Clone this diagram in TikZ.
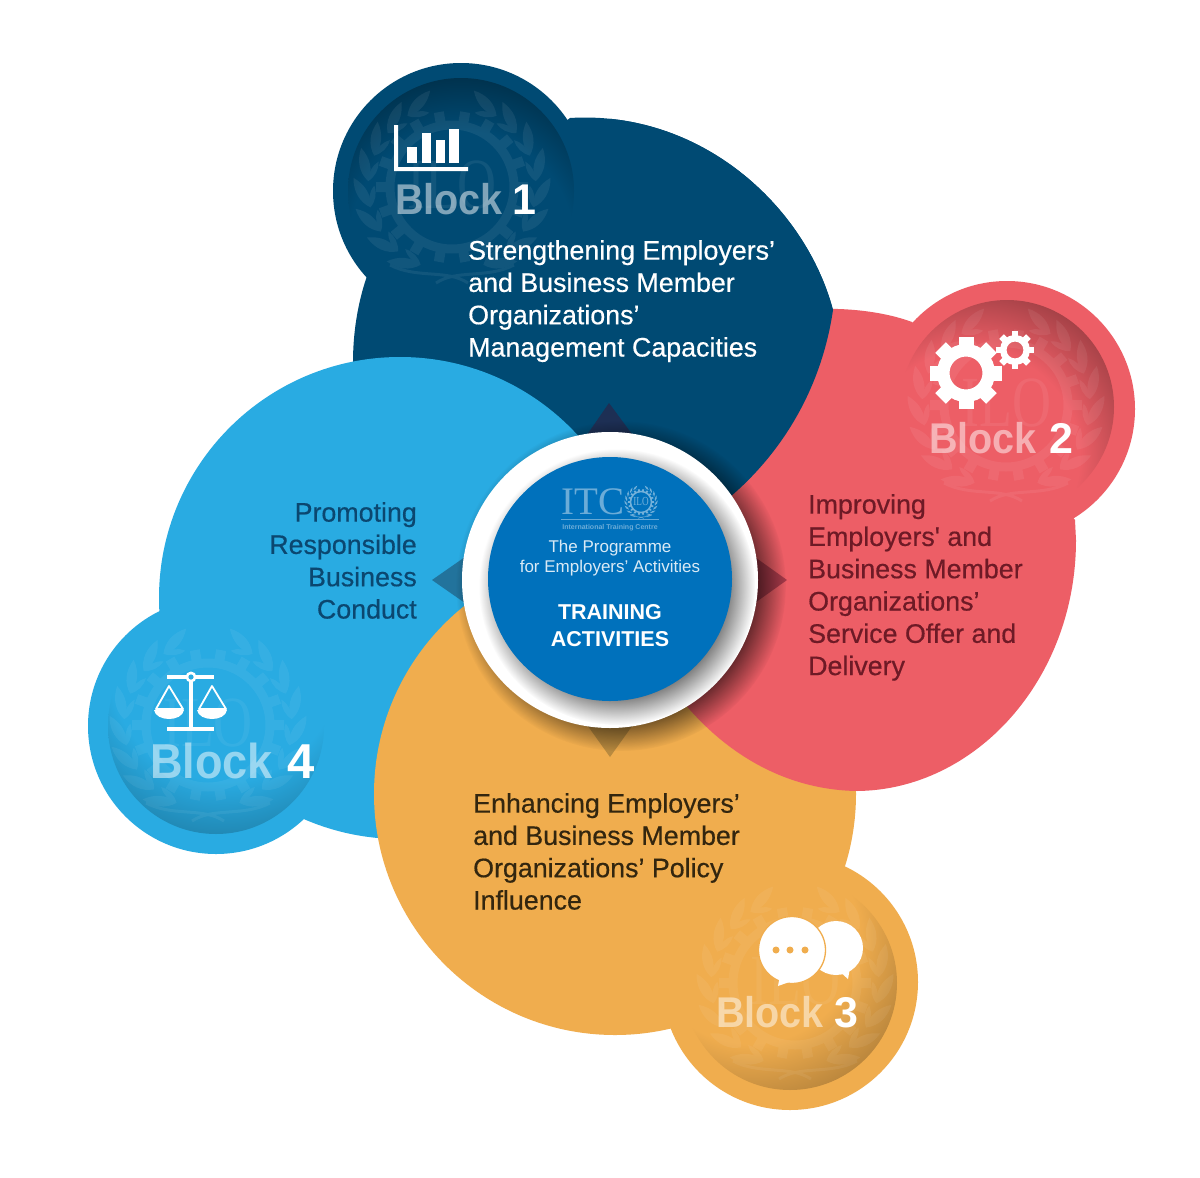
\documentclass[tikz,border=0pt]{standalone}
\usepackage{fontspec}
\usetikzlibrary{fadings}
\setmainfont{Liberation Sans}
\newfontfamily\bodyf[FakeBold=0.45]{Liberation Sans}
\newfontfamily\boldf{Liberation Sans Bold}
\newfontfamily\serf{Liberation Serif}
\definecolor{cnavy}{HTML}{004A73}
\definecolor{cblue}{HTML}{29ABE2}
\definecolor{cred}{HTML}{ED5E66}
\definecolor{corange}{HTML}{F0AD4E}
\definecolor{ccentre}{HTML}{0071BC}
\definecolor{tnavy}{HTML}{0B4770}
\definecolor{tred}{HTML}{6E1A26}
\definecolor{torange}{HTML}{33260F}
\colorlet{dnavy}{cnavy!68!black}
\colorlet{dred}{cred!70!black}
\colorlet{dorange}{corange!78!black}
\colorlet{dblue}{cblue!80!black}
\pgfdeclareradialshading{glownavy}{\pgfpointorigin}{color(0bp)=(cnavy); color(17bp)=(cnavy); color(25bp)=(dnavy); color(50bp)=(dnavy)}
\pgfdeclareradialshading{glowred}{\pgfpointorigin}{color(0bp)=(cred); color(16bp)=(cred); color(25bp)=(dred); color(50bp)=(dred)}
\pgfdeclareradialshading{gloworange}{\pgfpointorigin}{color(0bp)=(corange); color(16bp)=(corange); color(25bp)=(dorange); color(50bp)=(dorange)}
\pgfdeclareradialshading{glowblue}{\pgfpointorigin}{color(0bp)=(cblue); color(17bp)=(cblue); color(25bp)=(dblue); color(50bp)=(dblue)}
\pgfdeclareradialshading{softr}{\pgfpointorigin}{color(0bp)=(white); color(19bp)=(white); color(25bp)=(black); color(50bp)=(black)}
\pgfdeclarefading{softf}{\pgfuseshading{softr}}
\tikzset{
  x=1pt,y=-1pt,
  bodytext/.style={inner sep=0pt,font=\bodyf\fontsize{26.8}{32.3}\selectfont},
  blockw/.style={inner sep=0pt,anchor=base west,text=white,text opacity=.5},
  blockd/.style={inner sep=0pt,anchor=base west,text=white},
  centretext/.style={inner sep=0pt,anchor=base,text=white,align=center},
}
% cx cy radius shading dx dy
\newcommand{\glowdisc}[6]{%
  \begin{scope}
    \clip (#1,#2) circle (#3);
    \shade[shading=#4] ({#1+#5},{#2+#6}) circle ({#3+sqrt(#5*#5+#6*#6)});
  \end{scope}}
% cx cy scale opacity
\newcommand{\emblem}[4]{%
  \begin{scope}[shift={(#1,#2)},scale=#3,transparency group,opacity=#4]
    \draw[white,line width=#3*9pt] (0,0) circle (62);
    \foreach \a in {0,20,...,340}
      \fill[white,rotate=\a] (62,-5) rectangle (76,5);
    \node[text=white,text opacity=1,inner sep=0pt,scale=#3,font=\serf\fontsize{72}{72}\selectfont] at (0,-2) {\scalebox{.75}[1]{ILO}};
    \foreach \s in {1,-1}{
      \begin{scope}[xscale=\s]
        \foreach \t in {-68,-50,...,62}{
          \fill[white,shift={({84*cos(\t)},{-84*sin(\t)})},rotate=\t+90-16]
            (0,0) .. controls (10,7) and (22,7) .. (34,0) .. controls (22,-7) and (10,-7) .. (0,0);
          \fill[white,shift={({84*cos(\t)},{-84*sin(\t)})},rotate=\t+90+24]
            (0,0) .. controls (7,4) and (15,4) .. (22,0) .. controls (15,-4) and (7,-4) .. (0,0);
        }
        \draw[white,line width=#3*3pt] (-16,96) .. controls (5,82) and (35,92) .. (62,78);
      \end{scope}}
  \end{scope}}
% gear: cx cy body-r hole-r out-r tooth-halfwidth
\newcommand{\gearicon}[6]{%
  \begin{scope}[shift={(#1,#2)}]
    \draw[white,line width={(#3-#4)*1pt}] (0,0) circle ({(#3+#4)/2});
    \foreach \a in {0,45,...,315}
      \fill[white,rotate=\a] ({#3-2},{-#6}) rectangle (#5,#6);
  \end{scope}}
\newcommand{\navyblob}{(570,118) .. controls (700,110) and (805,205) .. (833,310) .. controls (822,385) and (785,450) .. (730,497) -- (610,580) -- (400,450) -- (353,362) .. controls (353,335) and (357,305) .. (367,276) -- cycle}
\begin{document}
\begin{tikzpicture}
\useasboundingbox (0,0) rectangle (1200,1178);
\fill[white] (0,0) rectangle (1200,1178);
% navy
\fill[cnavy] \navyblob;
\fill[cnavy] (461,191) circle (128);
% blue
\fill[cblue] (400,598) circle (241);
\fill[cblue] (216,726) circle (128);
% orange
\fill[corange] (615,794) circle (241);
\fill[corange] (790,982) circle (128);
% red
\fill[cred] (610,580) -- (760,400) -- (820,309) .. controls (850,308) and (885,312) .. (912,322) -- (1075,520) -- (1076,540) .. controls (1076,680) and (975,790) .. (857,791) .. controls (790,790) and (730,758) .. (684,703) -- cycle;
\fill[cred] (1007,409) circle (128);
% navy over red
\begin{scope}
  \clip (610,0) rectangle (1200,580);
  \fill[cnavy] \navyblob;
\end{scope}
% inner discs of the small circles
\glowdisc{461}{191}{113}{glownavy}{0}{52}
\glowdisc{1007}{407}{107}{glowred}{-35}{50}
\glowdisc{790}{983}{107}{gloworange}{-40}{-48}
\glowdisc{216}{726}{108}{glowblue}{8}{-60}
\emblem{452}{187}{1}{.065}
\emblem{1006}{405}{1}{.065}
\emblem{795}{983}{1}{.06}
\emblem{208}{725}{1}{.06}
% diamonds at the hub
\fill[fill={rgb,255:red,29;green,47;blue,84}] (609,403) -- (640,445) -- (580,445) -- cycle;
\fill[fill={rgb,255:red,168;green,58;blue,74}] (787,580) -- (745,610) -- (745,550) -- cycle;
\fill[fill={rgb,255:red,185;green,138;blue,63}] (610,757) -- (580,715) -- (640,715) -- cycle;
\fill[fill={rgb,255:red,34;green,115;blue,156}] (432,580) -- (475,550) -- (475,610) -- cycle;
% hub
\fill[black,opacity=.72,path fading=softf] (621,586) circle (165);
\fill[white] (610,580) circle (148);
\fill[black,opacity=.6,path fading=softf] (617,587) circle (138);
\node[circle,fill=ccentre,minimum size=244pt,inner sep=0pt] (hub) at (610,579) {};
% logo in hub
\node[inner sep=0pt,anchor=base west,text=white,text opacity=.42,font=\serf\fontsize{39}{39}\selectfont] (itc) at (561,514) {ITC};
\emblem{641}{502}{.17}{.45}
\draw[white,opacity=.4,line width=.6pt] (561,519) -- (659,519);
\node[centretext,text opacity=.42,font=\boldf\fontsize{7}{7}\selectfont] (itcname) at (610,529) {International Training Centre};
\node[centretext,text opacity=.85,font=\fontsize{17}{20}\selectfont] (prog1) at (610,552) {The Programme};
\node[centretext,text opacity=.85,font=\fontsize{17}{20}\selectfont] (prog2) at (610,572) {for Employers’ Activities};
\node[centretext,font=\boldf\fontsize{21.5}{27}\selectfont] (train1) at (610,619) {TRAINING};
\node[centretext,font=\boldf\fontsize{21.5}{27}\selectfont] (train2) at (610,646) {ACTIVITIES};
% body texts
\node[bodytext,anchor=north west,align=left,text=white] (t1) at (468,240) {Strengthening Employers’\\and Business Member\\Organizations’\\Management Capacities};
\node[bodytext,anchor=north west,align=left,text=tred] (t2) at (808,494) {Improving\\Employers' and\\Business Member\\Organizations’\\Service Offer and\\Delivery};
\node[bodytext,anchor=north west,align=left,text=torange] (t3) at (473,793) {Enhancing Employers’\\and Business Member\\Organizations’ Policy\\Influence};
\node[bodytext,anchor=north east,align=right,text=tnavy] (t4) at (417,502) {Promoting\\Responsible\\Business\\Conduct};
% block labels
\node[blockw,font=\boldf\fontsize{43}{43}\selectfont] (b1) at (395,214) {\scalebox{.92}[1]{Block}};
\node[blockd,font=\boldf\fontsize{43}{43}\selectfont] (n1) at (512,214) {1};
\node[blockw,font=\boldf\fontsize{43}{43}\selectfont] (b2) at (929,453) {\scalebox{.92}[1]{Block}};
\node[blockd,font=\boldf\fontsize{43}{43}\selectfont] (n2) at (1049,453) {2};
\node[blockw,font=\boldf\fontsize{43}{43}\selectfont] (b3) at (716,1027) {\scalebox{.92}[1]{Block}};
\node[blockd,font=\boldf\fontsize{43}{43}\selectfont] (n3) at (834,1027) {3};
\node[blockw,font=\boldf\fontsize{49}{49}\selectfont] (b4) at (150,778) {\scalebox{.92}[1]{Block}};
\node[blockd,font=\boldf\fontsize{49}{49}\selectfont] (n4) at (287,778) {4};
% chart icon
\fill[white] (394,125) -- (398,125) -- (398,167) -- (468,167) -- (468,171) -- (394,171) -- cycle;
\fill[white] (407,147) rectangle (417,163);
\fill[white] (422,133) rectangle (431,163);
\fill[white] (436,140) rectangle (445,163);
\fill[white] (449,129) rectangle (459,163);
% gears
\gearicon{966}{373}{29}{16.5}{36}{7.5}
\gearicon{1015}{350}{15}{8.5}{19}{3.2}
% speech bubbles
\fill[white] (836,948) circle (27);
\fill[white] (838,970) -- (848,979) -- (850,968) -- cycle;
\fill[white,draw=corange,line width=1.3pt] (792,950) circle (33.5);
\fill[white] (780,975) -- (778,986) -- (795,980) -- cycle;
\fill[corange] (776,950) circle (3.5) (790,950) circle (3.5) (805,950) circle (3.5);
% scales icon
\fill[white] (167,675) rectangle (214,679);
\fill[white] (189,677) rectangle (193,729);
\fill[white] (167,727) rectangle (214,731);
\fill[white] (191,677) circle (5.5);
\fill[cblue] (191,677) circle (2.6);
\draw[white,line width=1.8pt,line join=round] (169,686) -- (156,709) -- (183,709) -- cycle;
\draw[white,line width=1.8pt,line join=round] (212,686) -- (199,709) -- (226,709) -- cycle;
\fill[white] (154,710) .. controls (156,722) and (182,722) .. (184,710) -- cycle;
\fill[white] (197,710) .. controls (199,722) and (225,722) .. (227,710) -- cycle;
\end{tikzpicture}
\end{document}
